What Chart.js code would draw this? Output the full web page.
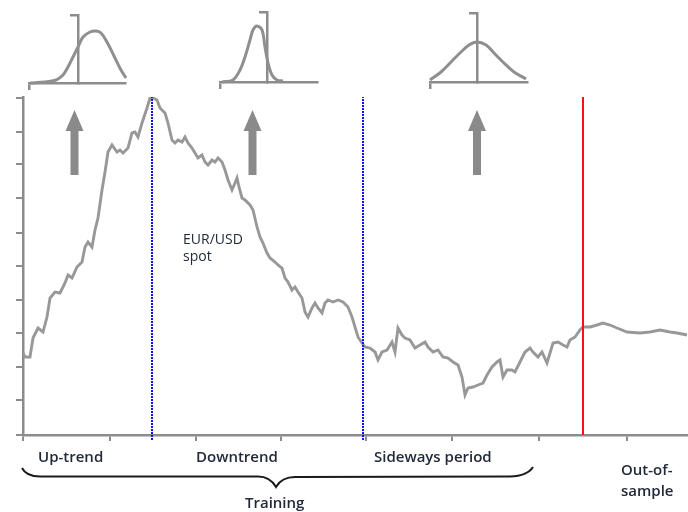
<!DOCTYPE html>
<html><head><meta charset="utf-8">
<script src="https://cdn.jsdelivr.net/npm/chart.js@4/dist/chart.umd.min.js"></script>
<style>
html,body{margin:0;padding:0;background:#fff;}
#wrap{position:relative;width:688px;height:512px;overflow:hidden;background:#fff;}
canvas{position:absolute;}
svg{position:absolute;left:0;top:0;}
.lbl{position:absolute;font-family:"Open Sans",sans-serif;color:#222a3a;white-space:nowrap;line-height:1;}
.b{font-size:15px;font-weight:600;}
.s{font-size:14px;font-weight:400;}
</style></head><body>
<div id="wrap">
<canvas id="main" width="688" height="512" style="left:0;top:0"></canvas>
<canvas id="in1"></canvas>
<canvas id="in2"></canvas>
<canvas id="in3"></canvas>
<svg width="688" height="512">
  <g fill="#8a8a8a">
    <rect x="70.5" y="128" width="8" height="47"/><polygon points="65.5,131 83.5,131 74.5,110"/>
    <rect x="248.5" y="128" width="8" height="47"/><polygon points="243.5,131 261.5,131 252.5,110"/>
    <rect x="473" y="128" width="8" height="47"/><polygon points="468,131 486,131 477,110"/>
  </g>
  <path d="M22,468 C25,474 30,476.5 40,476.5 L258,476.5 C266,476.5 272,480 276,487 C280,480 286,477 295,477 L510,476.5 C522,476.5 530,472 533,467" fill="none" stroke="#1a1a1a" stroke-width="2"/>
</svg>
<div class="lbl s" style="left:183px;top:231.6px">EUR/USD</div>
<div class="lbl s" style="left:183px;top:248.6px">spot</div>
<div class="lbl b" style="left:38px;top:448.7px">Up-trend</div>
<div class="lbl b" style="left:196px;top:448.7px">Downtrend</div>
<div class="lbl b" style="left:374px;top:448.7px">Sideways period</div>
<div class="lbl b" style="left:245px;top:494.7px">Training</div>
<div class="lbl b" style="left:621px;top:461.7px">Out-of-</div>
<div class="lbl b" style="left:621px;top:482.7px">sample</div>
</div>
<script>
// ---- main series: EUR/USD spot (scaled level) by trading-day index ----
const dayIdx = [0,2,7,10,15,20,24,27,32,37,42,45,49,54,59,62,65,69,72,75,79,82,85,89,94,97,100,105,109,112,115,119,124,127,130,
134,137,142,145,149,152,155,159,162,165,169,172,175,179,182,185,189,192,195,199,202,205,209,212,214,216,219,222,227,230,234,237,240,244,247,252,255,259,262,265,269,272,275,279,282,285,289,292,295,299,302,305,310,315,320,325,329,332,335,339,342,
347,352,355,359,364,369,372,375,379,382,387,392,397,402,405,410,415,420,425,430,435,439,442,445,450,455,460,464,469,474,477,480,484,489,492,497,502,507,510,515,519,524,527,530,535,540,544,547,552,557,560,567,574,580,587,594,604,617,627,637,647,654,664];
const spot = [82,78,78,97,107,103,118,137,143,142,152,160,157,168,173,188,193,188,205,217,245,263,283,290,283,285,282,287,302,303,298,312,327,337,337,
335,327,322,312,295,292,295,293,298,292,287,282,277,280,273,270,275,273,277,273,265,255,245,252,257,248,237,235,230,225,208,198,192,182,177,173,170,167,157,153,145,148,143,137,123,118,127,132,127,122,132,135,133,135,133,128,118,108,98,92,88,
87,83,75,83,85,93,83,107,100,97,95,87,90,93,88,83,85,78,77,73,70,58,40,47,48,50,52,60,68,73,75,58,65,65,63,73,83,87,83,78,83,72,82,92,93,90,88,95,98,105,108,108,110,112,110,107,103,102,103,105,103,102,100];
const xTicks = [0,87,173,258,343,429,516,604];
const yTicks = [0,35,68,102,135,169,202,237,271,303,337];
const xRange = [0,665];
const yRange = [0,338];
const regimeSplits = [129,340];   // end of up-trend, end of downtrend
const oosStart = 560;             // start of out-of-sample
const markerSpan = [-5,338];

// ---- inset distributions (x: offset from zero, y: density) ----
const dist1X = [-48,-33,-22,-15,-10,-5,0,5,12,18,23,29,36,43,48];
const dist1Y = [0,1,3,8,16,26,36,46,51,52,50,41,27,13,5];
const dist2X = [-45,-34,-27,-22,-17,-14,-10,-5,-2,1,5,10,16];
const dist2Y = [0,2,12,25,42,52,56,52,35,19,7,2,1];
const dist3X = [-47,-36,-26,-16,-8,0,9,17,27,37,49];
const dist3Y = [2,10,20,30,37,40,37,29,19,10,3];

const GRAY = '#8c8c8c';
const pts = (xs, ys) => xs.map((x,i)=>({x, y: ys[i]}));
const vline = (x) => markerSpan.map(y=>({x, y}));

new Chart(document.getElementById('main'), {
  type: 'line',
  data: { datasets: [
    { data: vline(regimeSplits[0]), borderColor:'#1010ff', borderWidth:2, borderDash:[2,1], pointRadius:0, clip:false, order:0 },
    { data: vline(regimeSplits[1]), borderColor:'#1010ff', borderWidth:2, borderDash:[2,1], pointRadius:0, clip:false, order:0 },
    { data: vline(oosStart).map(p=>({x:p.x, y:Math.max(p.y,0)})), borderColor:'#ff1010', borderWidth:2, pointRadius:0, clip:false, order:0 },
    { label:'EUR/USD spot', data: pts(dayIdx, spot), borderColor:'#989898', borderWidth:2.9, pointRadius:0, tension:0, order:1 }
  ]},
  options: {
    responsive:false, animation:false, events:[],
    layout:{ padding:{ top:97, left:0, right:0, bottom:0 } },
    plugins:{ legend:{display:false}, tooltip:{enabled:false} },
    scales:{
      x:{ type:'linear', min:xRange[0], max:xRange[1],
          border:{ color:GRAY, width:2.5 },
          grid:{ drawOnChartArea:false, drawTicks:true, tickLength:6, color:GRAY, lineWidth:2 },
          ticks:{ display:false },
          afterBuildTicks:s=>{ s.ticks = xTicks.map(v=>({value:v})); },
          afterFit:s=>{ s.height = 77; } },
      y:{ type:'linear', min:yRange[0], max:yRange[1],
          border:{ color:GRAY, width:2.5 },
          grid:{ drawOnChartArea:false, drawTicks:true, tickLength:7, color:GRAY, lineWidth:2 },
          ticks:{ display:false },
          afterBuildTicks:s=>{ s.ticks = yTicks.map(v=>({value:v})); },
          afterFit:s=>{ s.width = 23; } }
    }
  }
});

function inset(id, geo, xs, ys) {
  // geo: left, right, zero, base, top (page px)
  const cv = document.getElementById(id);
  const padL = 10, padR = 10, padT = 5, axH = 12;
  const w = geo.right - geo.left + padL + padR;
  const h = geo.base - geo.top + padT + axH;
  cv.width = w; cv.height = h;
  cv.style.left = (geo.left - padL) + 'px';
  cv.style.top = (geo.top - padT) + 'px';
  const xmin = geo.left - geo.zero, xmax = geo.right - geo.zero, ymax = geo.base - geo.top;
  new Chart(cv, {
    type:'line',
    data:{ datasets:[{ data: pts(xs, ys), borderColor:'#8f8f8f', borderWidth:3, pointRadius:0, tension:0.35, clip:false }] },
    options:{
      responsive:false, animation:false, events:[],
      layout:{ padding:{ top:padT, left:padL, right:padR, bottom:0 } },
      plugins:{ legend:{display:false}, tooltip:{enabled:false} },
      scales:{
        x:{ type:'linear', min:xmin, max:xmax, position:'bottom',
            border:{ color:GRAY, width:2.5 },
            grid:{ drawOnChartArea:false, tickLength:7, color:GRAY, lineWidth:2.5 },
            ticks:{ display:false },
            afterBuildTicks:s=>{ s.ticks = [{value:xmin}]; },
            afterFit:s=>{ s.height = axH; } },
        y:{ type:'linear', axis:'y', min:0, max:ymax, position:{ x:0 },
            border:{ color:GRAY, width:2.5 },
            grid:{ drawOnChartArea:false, tickLength:7, color:GRAY, lineWidth:2.5 },
            ticks:{ display:false },
            afterBuildTicks:s=>{ s.ticks = [{value:ymax}]; } }
      }
    }
  });
}
inset('in1', {left:29, right:125, zero:78, base:83, top:15}, dist1X, dist1Y);
inset('in2', {left:220, right:317, zero:267, base:82, top:12}, dist2X, dist2Y);
inset('in3', {left:430, right:527, zero:477, base:82, top:13}, dist3X, dist3Y);
</script>
</body></html>
